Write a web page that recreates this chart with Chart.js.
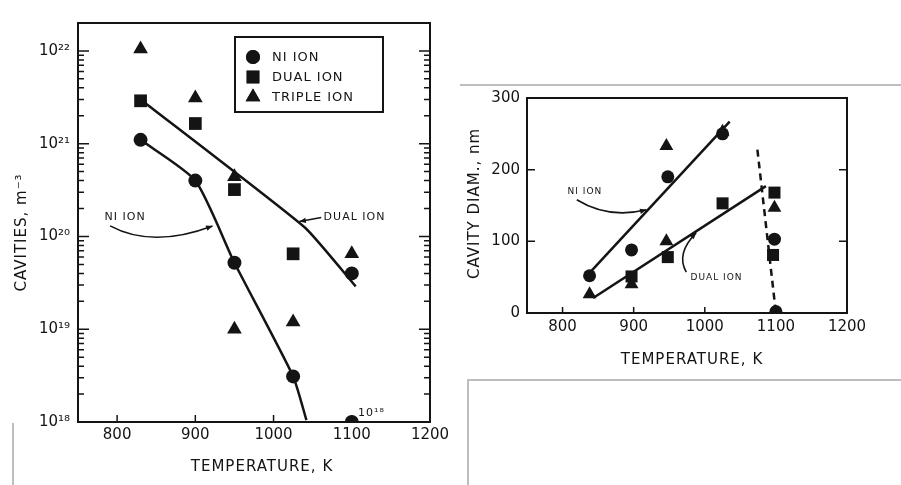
<!DOCTYPE html>
<html>
<head>
<meta charset="utf-8">
<script src="https://cdn.jsdelivr.net/npm/chart.js@4/dist/chart.umd.min.js"></script>
<style>
	body { margin: 0; background: #fff; }
	#wrap { position: relative; width: 901px; height: 485px; overflow: hidden; background: #fff; }
	canvas { position: absolute; top: 0; }
	#density-chart { left: 0; }
	#diameter-chart { left: 460px; }
	.scan { position: absolute; border: 0 solid #bdbdbd; }
</style>
</head>
<body>
<div id="wrap">
	<div class="scan" style="left:460px; top:84px; width:441px; border-top-width:2px;"></div>
	<div class="scan" style="left:467px; top:379px; width:434px; height:106px; border-top-width:2px; border-left-width:2px;"></div>
	<div class="scan" style="left:12px; top:423px; width:0; height:62px; border-left-width:2px;"></div>
	<canvas id="density-chart" width="460" height="485"></canvas>
	<canvas id="diameter-chart" width="441" height="485"></canvas>
</div>
<script>
const densityCanvasEl = document.getElementById("density-chart");
const diameterCanvasEl = document.getElementById("diameter-chart");

// axes
const tempTicks = [800, 900, 1000, 1100, 1200];
const tempTickLabels = ["800", "900", "1000", "1100", "1200"];
const densityTicks = [1e18, 1e19, 1e20, 1e21, 1e22];
const densityTickLabels = ["10¹⁸", "10¹⁹", "10²⁰", "10²¹", "10²²"];
const diamTicks = [0, 100, 200, 300];
const diamTickLabels = ["0", "100", "200", "300"];

// cavity density, m^-3 (left panel)
const niDensityT = [830, 900, 950, 1025, 1100, 1100];
const niDensity = [1.1e21, 4e20, 5.2e19, 3.1e18, 4e19, 1e18];
const dualDensityT = [830, 900, 950, 1025];
const dualDensity = [2.9e21, 1.65e21, 3.2e20, 6.5e19];
const tripleDensityT = [830, 900, 950, 950, 1025, 1100];
const tripleDensity = [1.05e22, 3.1e21, 4.4e20, 1e19, 1.2e19, 6.5e19];

// hand-drawn trend curves (left panel)
const niDensityFitT = [830, 900, 950, 1025, 1042];
const niDensityFit = [1.1e21, 4e20, 5.2e19, 3.1e18, 1.05e18];
const dualDensityFitT = [830, 1040, 1105];
const dualDensityFit = [3e21, 1.25e20, 2.9e19];

// cavity diameter, nm (right panel)
const niDiamT = [838, 897, 948, 1025, 1098, 1100];
const niDiam = [52, 88, 190, 250, 103, 2];
const dualDiamT = [897, 948, 1025, 1098, 1096];
const dualDiam = [51, 78, 153, 168, 81];
const tripleDiamT = [838, 897, 946, 946, 1025, 1098];
const tripleDiam = [26, 40, 233, 100, 253, 147];

const niDiamFitT = [838, 1035];
const niDiamFit = [56, 267];
const dualDiamFitT = [843, 1086];
const dualDiamFit = [21, 177];
const limitDiamT = [1074, 1100];
const limitDiam = [228, 0];

// legend entries
const legendNames = ["NI ION", "DUAL ION", "TRIPLE ION"];
const legendStyles = ["circle", "rect", "triangle"];

const INK = "#141414";
const FONT = "'DejaVu Sans', sans-serif";

function pts(xs, ys) {
	return xs.map((x, i) => ({ x, y: ys[i] }));
}

function markerSet(label, xs, ys, style, radius) {
	return {
		label,
		data: pts(xs, ys),
		pointStyle: style,
		pointRadius: radius,
		backgroundColor: INK,
		borderColor: INK,
		borderWidth: 0,
		showLine: false,
	};
}

function curveSet(xs, ys, dashed, tension) {
	return {
		label: "fit",
		data: pts(xs, ys),
		showLine: true,
		borderColor: INK,
		borderWidth: 2.5,
		borderDash: dashed ? [7, 5] : [],
		pointRadius: 0,
		tension: tension || 0,
		fill: false,
	};
}

function fixedTicks(values) {
	return scale => {
		scale.ticks = values.map(value => ({ value }));
	};
}

function tickLabel(values, labels) {
	return value => {
		const i = values.findIndex(v => Math.abs(v - value) <= Math.abs(v) * 1e-6);
		return i >= 0 ? labels[i] : "";
	};
}

function arrowHead(ctx, fromX, fromY, toX, toY, size) {
	const ang = Math.atan2(toY - fromY, toX - fromX);
	ctx.beginPath();
	ctx.moveTo(toX, toY);
	ctx.lineTo(toX - size * Math.cos(ang - 0.4), toY - size * Math.sin(ang - 0.4));
	ctx.lineTo(toX - size * Math.cos(ang + 0.4), toY - size * Math.sin(ang + 0.4));
	ctx.closePath();
	ctx.fill();
}

// frame, inward ticks, titles, legend and notes
const decorPlugin = {
	id: "decor",
	afterDraw(chart, args, opts) {
		const { ctx, chartArea: a, scales } = chart;
		const sx = scales.x;
		const sy = scales.y;
		ctx.save();
		ctx.strokeStyle = INK;
		ctx.fillStyle = INK;

		ctx.lineWidth = 2;
		ctx.strokeRect(a.left, a.top, a.right - a.left, a.bottom - a.top);

		ctx.lineWidth = 1.5;
		ctx.beginPath();
		for (const v of opts.yMajor) {
			const y = sy.getPixelForValue(v);
			ctx.moveTo(a.left, y); ctx.lineTo(a.left + opts.majorLen, y);
			ctx.moveTo(a.right, y); ctx.lineTo(a.right - opts.majorLen, y);
		}
		for (const v of opts.yMinor) {
			const y = sy.getPixelForValue(v);
			ctx.moveTo(a.left, y); ctx.lineTo(a.left + opts.minorLen, y);
			ctx.moveTo(a.right, y); ctx.lineTo(a.right - opts.minorLen, y);
		}
		for (const v of opts.xMajor) {
			const x = sx.getPixelForValue(v);
			ctx.moveTo(x, a.bottom); ctx.lineTo(x, a.bottom - opts.xLen);
		}
		ctx.stroke();

		// axis titles
		ctx.font = opts.titleFont;
		ctx.letterSpacing = "1px";
		ctx.textAlign = "center";
		ctx.textBaseline = "middle";
		ctx.fillText(opts.xTitle, (a.left + a.right) / 2 + opts.xTitleDx, a.bottom + opts.xTitleDy);
		ctx.save();
		ctx.translate(opts.yTitleX, (a.top + a.bottom) / 2 + opts.yTitleDy);
		ctx.rotate(-Math.PI / 2);
		ctx.fillText(opts.yTitle, 0, 0);
		ctx.restore();

		// legend box
		if (opts.legend) {
			const L = opts.legend;
			const bx = a.left + L.dx;
			const by = a.top + L.dy;
			ctx.lineWidth = 2;
			ctx.strokeRect(bx, by, L.w, L.h);
			ctx.font = L.font;
			ctx.textAlign = "left";
			legendNames.forEach((name, i) => {
				const cy = by + L.first + i * L.step;
				Chart.helpers.drawPoint(ctx, { pointStyle: legendStyles[i], radius: L.radii[i], rotation: 0, borderWidth: 0 }, bx + L.markX, cy);
				ctx.fill();
				ctx.fillText(name, bx + L.textX, cy + 1);
			});
		}

		// notes and arrows
		ctx.letterSpacing = "1px";
		ctx.font = opts.noteFont;
		ctx.textAlign = "left";
		for (const n of opts.notes) {
			ctx.fillText(n.text, sx.getPixelForValue(n.at[0]), sy.getPixelForValue(n.at[1]));
		}
		ctx.lineWidth = 1.6;
		for (const ar of opts.arrows) {
			const [s, c, e] = ar.map(p => [sx.getPixelForValue(p[0]), sy.getPixelForValue(p[1])]);
			ctx.beginPath();
			ctx.moveTo(s[0], s[1]);
			ctx.quadraticCurveTo(c[0], c[1], e[0], e[1]);
			ctx.stroke();
			arrowHead(ctx, c[0], c[1], e[0], e[1], 7);
		}
		ctx.restore();
	},
};

function axisFont(size) {
	return { family: FONT, size, weight: "normal" };
}

function makeChart(canvas, cfg) {
	return new Chart(canvas.getContext("2d"), {
		type: "scatter",
		data: { datasets: cfg.datasets },
		options: {
			responsive: false,
			animation: false,
			events: [],
			layout: { padding: cfg.padding },
			plugins: { legend: { display: false }, tooltip: { enabled: false }, decor: cfg.decor },
			scales: {
				x: {
					type: "linear",
					min: 750,
					max: 1200,
					afterBuildTicks: fixedTicks(tempTicks),
					afterFit: s => { s.height = cfg.xHeight; },
					grid: { display: false, drawTicks: false },
					border: { display: false },
					ticks: { color: INK, font: axisFont(15), padding: cfg.xPad, maxRotation: 0, autoSkip: false, callback: tickLabel(tempTicks, tempTickLabels) },
				},
				y: cfg.y,
			},
		},
		plugins: [decorPlugin],
	});
}

// minor log ticks 2..9 in each decade
const densityMinor = [];
for (let d = 1e18; d < 1e22; d *= 10) {
	for (let m = 2; m <= 9; m++) densityMinor.push(m * d);
}
densityMinor.push(2e22);

makeChart(densityCanvasEl, {
	padding: { left: 0, top: 23, right: 30, bottom: 0 },
	xHeight: 63,
	xPad: 4,
	datasets: [
		curveSet(niDensityFitT, niDensityFit, false, 0.2),
		curveSet(dualDensityFitT, dualDensityFit, false, 0.15),
		markerSet("NI ION", niDensityT, niDensity, "circle", 7),
		markerSet("DUAL ION", dualDensityT, dualDensity, "rect", 9),
		markerSet("TRIPLE ION", tripleDensityT, tripleDensity, "triangle", 8.5),
	],
	y: {
		type: "logarithmic",
		min: 1e18,
		max: 2e22,
		afterBuildTicks: fixedTicks(densityTicks),
		afterFit: s => { s.width = 78; },
		grid: { display: false, drawTicks: false },
		border: { display: false },
		ticks: { color: INK, font: axisFont(15), padding: 8, autoSkip: false, callback: tickLabel(densityTicks, densityTickLabels) },
	},
	decor: {
		yMajor: densityTicks,
		yMinor: densityMinor,
		xMajor: [800, 900, 1000, 1100],
		majorLen: 11,
		minorLen: 6,
		xLen: 7,
		titleFont: "15px " + FONT,
		xTitle: "TEMPERATURE, K",
		xTitleDx: 8,
		xTitleDy: 45,
		yTitle: "CAVITIES, m⁻³",
		yTitleX: 22,
		yTitleDy: 10,
		noteFont: "11px " + FONT,
		notes: [
			{ text: "NI ION", at: [784, 1.6e20] },
			{ text: "DUAL ION", at: [1064, 1.6e20] },
			{ text: "10¹⁸", at: [1108, 1.25e18] },
		],
		arrows: [
			[[791, 1.3e20], [845, 7.4e19], [922, 1.3e20]],
			[[1061, 1.6e20], [1047, 1.52e20], [1033, 1.45e20]],
		],
		legend: { dx: 157, dy: 14, w: 148, h: 75, first: 20, step: 20, markX: 18, textX: 37, font: "13px " + FONT, radii: [7, 9, 8.5] },
	},
});

makeChart(diameterCanvasEl, {
	padding: { left: 0, top: 98, right: 54, bottom: 132 },
	xHeight: 40,
	xPad: 5,
	datasets: [
		curveSet(niDiamFitT, niDiamFit, false, 0),
		curveSet(dualDiamFitT, dualDiamFit, false, 0),
		curveSet(limitDiamT, limitDiam, true, 0),
		markerSet("NI ION", niDiamT, niDiam, "circle", 6.5),
		markerSet("DUAL ION", dualDiamT, dualDiam, "rect", 8.5),
		markerSet("TRIPLE ION", tripleDiamT, tripleDiam, "triangle", 8),
	],
	y: {
		type: "linear",
		min: 0,
		max: 300,
		afterBuildTicks: fixedTicks(diamTicks),
		afterFit: s => { s.width = 67; },
		grid: { display: false, drawTicks: false },
		border: { display: false },
		ticks: { color: INK, font: axisFont(15), padding: 7, autoSkip: false, callback: tickLabel(diamTicks, diamTickLabels) },
	},
	decor: {
		yMajor: [100, 200],
		yMinor: [],
		xMajor: [800, 900, 1000, 1100],
		majorLen: 8,
		minorLen: 0,
		xLen: 6,
		titleFont: "15px " + FONT,
		xTitle: "TEMPERATURE, K",
		xTitleDx: 5,
		xTitleDy: 47,
		yTitle: "CAVITY DIAM., nm",
		yTitleX: 15,
		yTitleDy: -2,
		noteFont: "9px " + FONT,
		notes: [
			{ text: "NI ION", at: [807, 169] },
			{ text: "DUAL ION", at: [980, 50] },
		],
		arrows: [
			[[820, 158], [864, 131], [918, 144]],
			[[974, 57], [959, 83], [988, 112]],
		],
	},
});
</script>
</body>
</html>
